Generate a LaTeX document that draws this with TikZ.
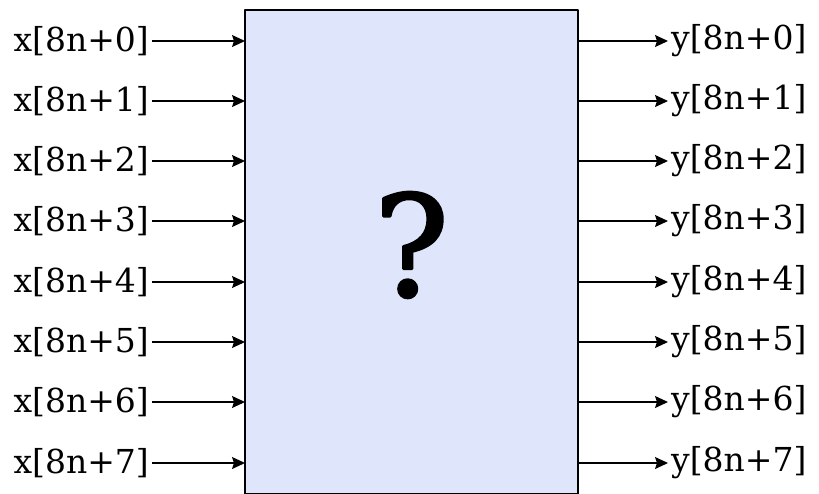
\documentclass[tikz,border=0pt]{standalone}
\usepackage{fontspec}
\setmainfont{DejaVu Serif}
\newfontfamily\qmfont[FakeBold=2]{DejaVu Serif}
\usetikzlibrary{arrows.meta,calc,positioning}
\definecolor{mysteryFill}{HTML}{DFE6FB}
\definecolor{mysteryInk}{HTML}{000000}

\begin{document}
\begin{tikzpicture}[x=1pt,y=-1pt,line join=round]
\useasboundingbox (0,0) rectangle (819,493);
\tikzset{sig/.style={draw=mysteryInk,line width=1.3pt,-{Stealth[length=13pt,width=12pt,inset=2pt]}},lbl/.style={font=\fontsize{33}{36}\selectfont,inner sep=3pt},blk/.style={draw=mysteryInk,fill=mysteryFill,line width=1.5pt,outer sep=0pt,inner sep=0pt}}
\node[blk,minimum width=333pt,minimum height=484pt,anchor=north west] (core) at (245,10) {};
\node[font=\qmfont\fontsize{140}{146}\selectfont] (qm) at ($(core.center)+(0,-7)$) {?};
% inputs
\node[lbl,anchor=east] (x0) at (152,41) {x[8n+0]}; \draw[sig] (x0.east) -- (x0 -| core.west);
\node[lbl,anchor=east] (x1) at (152,101) {x[8n+1]}; \draw[sig] (x1.east) -- (x1 -| core.west);
\node[lbl,anchor=east] (x2) at (152,161) {x[8n+2]}; \draw[sig] (x2.east) -- (x2 -| core.west);
\node[lbl,anchor=east] (x3) at (152,221) {x[8n+3]}; \draw[sig] (x3.east) -- (x3 -| core.west);
\node[lbl,anchor=east] (x4) at (152,282) {x[8n+4]}; \draw[sig] (x4.east) -- (x4 -| core.west);
\node[lbl,anchor=east] (x5) at (152,342) {x[8n+5]}; \draw[sig] (x5.east) -- (x5 -| core.west);
\node[lbl,anchor=east] (x6) at (152,402) {x[8n+6]}; \draw[sig] (x6.east) -- (x6 -| core.west);
\node[lbl,anchor=east] (x7) at (152,463) {x[8n+7]}; \draw[sig] (x7.east) -- (x7 -| core.west);
% outputs
\node[lbl,anchor=west] (y0) at (668,41) {y[8n+0]}; \draw[sig] (y0 -| core.east) -- (y0.west);
\node[lbl,anchor=west] (y1) at (668,101) {y[8n+1]}; \draw[sig] (y1 -| core.east) -- (y1.west);
\node[lbl,anchor=west] (y2) at (668,161) {y[8n+2]}; \draw[sig] (y2 -| core.east) -- (y2.west);
\node[lbl,anchor=west] (y3) at (668,221) {y[8n+3]}; \draw[sig] (y3 -| core.east) -- (y3.west);
\node[lbl,anchor=west] (y4) at (668,282) {y[8n+4]}; \draw[sig] (y4 -| core.east) -- (y4.west);
\node[lbl,anchor=west] (y5) at (668,342) {y[8n+5]}; \draw[sig] (y5 -| core.east) -- (y5.west);
\node[lbl,anchor=west] (y6) at (668,402) {y[8n+6]}; \draw[sig] (y6 -| core.east) -- (y6.west);
\node[lbl,anchor=west] (y7) at (668,463) {y[8n+7]}; \draw[sig] (y7 -| core.east) -- (y7.west);
\end{tikzpicture}
\end{document}
